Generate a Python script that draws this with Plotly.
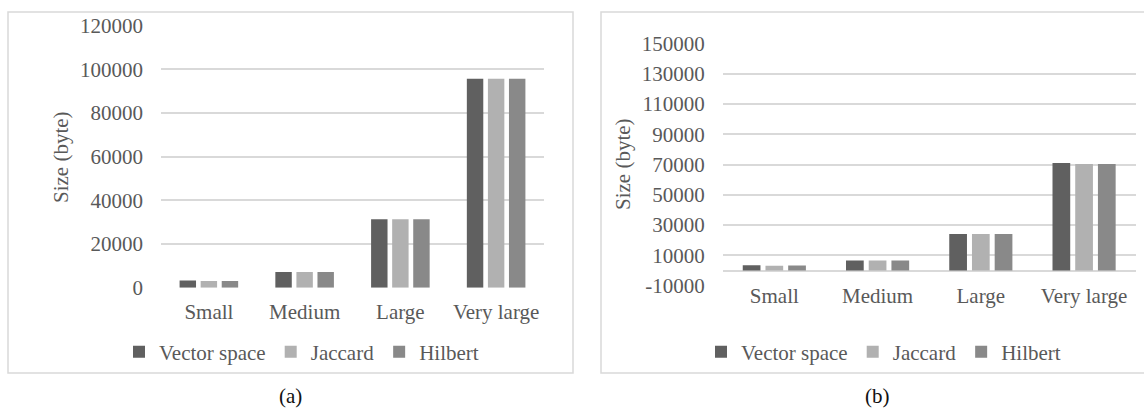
import plotly.graph_objects as go

# ---------------- data ----------------
categories = ["Small", "Medium", "Large", "Very large"]
series_names = ["Vector space", "Jaccard", "Hilbert"]

a_vector = [3300, 7200, 31300, 95700]
a_jaccard = [3100, 7200, 31300, 95700]
a_hilbert = [3100, 7200, 31300, 95700]

b_vector = [3500, 6700, 24100, 71000]
b_jaccard = [3200, 6700, 24100, 70300]
b_hilbert = [3300, 6700, 24100, 70300]

a_ticks = [0, 20000, 40000, 60000, 80000, 100000, 120000]
b_ticks = [-10000, 10000, 30000, 50000, 70000, 90000, 110000, 130000, 150000]

captions = ["(a)", "(b)"]
y_title = "Size (byte)"

# ---------------- style ----------------
W, H = 1144, 409
colors = ["#606060", "#b1b1b1", "#898989"]
FONT = "Liberation Serif"
TXT = "#595959"
GRID = "#d9d9d9"
FS = 21


def px_x(x):
    return x / W


def px_y(y):
    return (H - y) / H


fig = go.Figure()

a_series = [a_vector, a_jaccard, a_hilbert]
b_series = [b_vector, b_jaccard, b_hilbert]

for name, vals, col in zip(series_names, a_series, colors):
    fig.add_trace(go.Bar(x=categories, y=vals, name=name, marker=dict(color=col, line=dict(width=0)),
                         xaxis="x", yaxis="y", legend="legend"))
for name, vals, col in zip(series_names, b_series, colors):
    fig.add_trace(go.Bar(x=categories, y=vals, name=name, marker=dict(color=col, line=dict(width=0)),
                         xaxis="x2", yaxis="y2", legend="legend2"))

tickfont = dict(family=FONT, size=FS, color=TXT)

fig.update_layout(
    width=W, height=H,
    margin=dict(l=0, r=0, t=0, b=0, pad=0, autoexpand=False),
    paper_bgcolor="white", plot_bgcolor="white",
    barmode="group", bargap=0.34, bargroupgap=0.22,
    font=dict(family=FONT, size=FS, color=TXT),
    xaxis=dict(domain=[px_x(161), px_x(544)], anchor="y", showgrid=False, zeroline=False, automargin=False,
               showline=False, ticks="", tickfont=tickfont, ticklabelstandoff=9, fixedrange=True),
    yaxis=dict(domain=[px_y(287.7), px_y(25.7)], anchor="x", range=[0, 120000], tickvals=a_ticks,
               ticktext=[str(t) for t in a_ticks], showgrid=True, gridcolor=GRID, gridwidth=1.5,
               automargin=False,
               zeroline=False, showline=False, ticks="", tickfont=tickfont, ticklabelstandoff=17),
    xaxis2=dict(domain=[px_x(722.7), px_x(1135.7)], anchor="y2", showgrid=False, zeroline=False,
                automargin=False,
                showline=False, ticks="", tickfont=tickfont, ticklabelstandoff=-5, fixedrange=True),
    yaxis2=dict(domain=[px_y(285.7), px_y(43.3)], anchor="x2", range=[-10000, 150000], tickvals=b_ticks,
                ticktext=[str(t) for t in b_ticks], showgrid=True, gridcolor=GRID, gridwidth=1.5,
                automargin=False,
                zeroline=True, zerolinecolor=GRID, zerolinewidth=1.5, showline=False, ticks="",
                tickfont=tickfont, ticklabelstandoff=17),
    legend=dict(orientation="h", x=px_x(119), xanchor="left", y=px_y(352), yanchor="middle",
                font=dict(family=FONT, size=FS, color=TXT), bgcolor="rgba(0,0,0,0)", traceorder="normal"),
    legend2=dict(orientation="h", x=px_x(701), xanchor="left", y=px_y(352), yanchor="middle",
                 font=dict(family=FONT, size=FS, color=TXT), bgcolor="rgba(0,0,0,0)", traceorder="normal"),
    showlegend=True,
)

# panel frames
fig.add_shape(type="rect", xref="paper", yref="paper", x0=px_x(8), x1=px_x(573), y0=px_y(373), y1=px_y(12),
              line=dict(color=GRID, width=1.5), layer="below")
fig.add_shape(type="rect", xref="paper", yref="paper", x0=px_x(601), x1=px_x(1155), y0=px_y(373), y1=px_y(12),
              line=dict(color=GRID, width=1.5), layer="below")

# axis titles
fig.add_annotation(text=y_title, x=px_x(61), y=px_y(157), xref="paper", yref="paper", textangle=-90,
                   showarrow=False, font=dict(family=FONT, size=FS, color=TXT), xanchor="center", yanchor="middle")
fig.add_annotation(text=y_title, x=px_x(622.5), y=px_y(164.5), xref="paper", yref="paper", textangle=-90,
                   showarrow=False, font=dict(family=FONT, size=FS, color=TXT), xanchor="center", yanchor="middle")

# captions
fig.add_annotation(text=captions[0], x=px_x(290.5), y=px_y(396), xref="paper", yref="paper", showarrow=False,
                   font=dict(family=FONT, size=FS, color="#111111"), xanchor="center", yanchor="middle")
fig.add_annotation(text=captions[1], x=px_x(877), y=px_y(396), xref="paper", yref="paper", showarrow=False,
                   font=dict(family=FONT, size=FS, color="#111111"), xanchor="center", yanchor="middle")

fig.write_html("out.html", config={"displayModeBar": False},
               post_script="document.body.style.margin='0';")
